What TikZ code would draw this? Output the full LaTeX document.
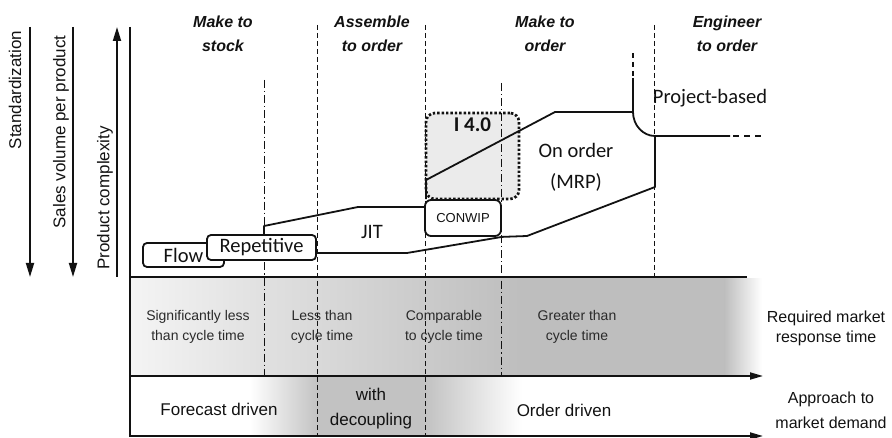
\documentclass[tikz,border=0pt]{standalone}
\usepackage{fontspec}
\setmainfont{Liberation Sans}
\newfontfamily\carlito{Carlito}
\usetikzlibrary{arrows.meta}

\definecolor{ink}{HTML}{121212}
\definecolor{softgray}{HTML}{EBEBEB}
\definecolor{bandA}{HTML}{F4F4F4}
\definecolor{bandB}{HTML}{E0E0E0}
\definecolor{bandC}{HTML}{CACACA}
\definecolor{bandD}{HTML}{BEBEBE}
\definecolor{bandE}{HTML}{C2C2C2}

\tikzset{
  outline/.style={draw=ink, line width=1.8pt, line join=round},
  frame/.style={draw=ink, line width=1.8pt},
  colsep/.style={draw=ink, line width=1pt, dash pattern=on 5pt off 3pt},
  colsepdd/.style={draw=ink, line width=1pt, dash pattern=on 8pt off 3pt on 1.2pt off 3pt},
  phasebox/.style={draw=ink, line width=1.8pt, fill=white, rounded corners=4pt,
    inner sep=0pt, text=ink, font=\carlito\fontsize{20.5}{24}\selectfont},
  regionlabel/.style={text=ink, font=\carlito\fontsize{20.5}{31}\selectfont, align=center},
  head/.style={text=ink, font=\bfseries\itshape\fontsize{16}{24}\selectfont, align=center},
  axislabel/.style={text=ink, font=\fontsize{17}{20}\selectfont, rotate=90},
  bandtext/.style={text=ink!90, font=\fontsize{14}{20}\selectfont, align=center},
  sidetext/.style={text=ink, font=\fontsize{16}{20}\selectfont, align=center},
  demandtext/.style={text=ink, font=\fontsize{17}{25}\selectfont, align=center},
  bigtip/.style={-{Triangle[length=14pt,width=8pt]}},
  flattip/.style={-{Triangle[length=13pt,width=7pt]}},
}

\begin{document}
\begin{tikzpicture}[x=1pt,y=-1pt]
\useasboundingbox (0,0) rectangle (892,438);

% Industry 4.0 zone behind everything else
\node[draw=ink, line width=2.7pt, dash pattern=on 2.4pt off 2pt, fill=softgray,
      rounded corners=9pt, minimum width=93pt, minimum height=86pt, inner sep=0pt,
      label={[anchor=north, inner sep=6pt, text=ink,
              font=\carlito\bfseries\fontsize{21}{24}\selectfont]north:I 4.0}]
      (i40) at (472.5,156) {};

% market response band
\shade[left color=bandA, right color=bandB] (131,278.5) rectangle (266,375);
\shade[left color=bandB, right color=bandC] (265.5,278.5) rectangle (430,375);
\shade[left color=bandC, right color=bandD] (429.5,278.5) rectangle (520,375);
\fill[bandD] (519.5,278.5) rectangle (725,375);
\shade[left color=bandD, right color=white] (724.5,278.5) rectangle (762,375);

% market demand band
\shade[left color=white, right color=bandE] (250,377) rectangle (318,435);
\fill[bandE] (317.5,377) rectangle (426,435);
\shade[left color=bandE, right color=white] (425.5,377) rectangle (522,435);

% column separators
\draw[colsepdd] (264,80) -- (264,376);
\draw[colsep]   (317,25) -- (317,436);
\draw[colsep]   (425,25) -- (425,436);
\draw[colsepdd] (501,83) -- (501,376);
\draw[colsep]   (654,25) -- (654,277);

% production control boxes
\node[phasebox, minimum width=81pt, minimum height=24pt] (flow) at (183.5,255) {\raisebox{-3pt}{Flow}};
\node[phasebox, minimum width=109pt, minimum height=25pt] (rep) at (261.5,247.5) {Repetitive};
\node[phasebox, rounded corners=6pt, minimum width=76pt, minimum height=36pt,
      font=\fontsize{13}{15}\selectfont] (conwip) at (463,218) {CONWIP};

% JIT region
\coordinate (jitA) at (264,226);
\coordinate (jitB) at (358,207);
\coordinate (jitC) at (407,253);
\draw[outline] (rep.north west -| jitA) -- (jitA) -- (jitB) -- (conwip.west |- jitB);

% MRP region
\coordinate (mrpA) at (426,180);
\coordinate (mrpB) at (555,112);
\coordinate (mrpC) at (633,112);
\coordinate (mrpD) at (655,136);
\coordinate (mrpE) at (655,187);
\coordinate (mrpF) at (527,236);
\coordinate (mrpG) at (730,136);
\coordinate (mrpH) at (763,136);
\coordinate (prjA) at (633,78);
\coordinate (prjB) at (633,53);
\draw[outline] (rep.east |- jitC) -- (jitC) -- (conwip.south east) -- (mrpF) -- (mrpE) -- (mrpD);
\draw[outline] (conwip.north west -| mrpA) -- (mrpA) -- (mrpB) -- (mrpC)
  .. controls (633,125.2) and (642.9,136) .. (mrpD) -- (mrpG);
\draw[outline] (prjA) -- (mrpC);
\draw[outline, dash pattern=on 5pt off 4pt] (prjB) -- (prjA);
\draw[outline, dash pattern=on 6pt off 5pt] (733,136) -- (mrpH);

% region labels
\node[regionlabel] (jit) at (372,232) {JIT};
\node[regionlabel] (mrp) at (576,167) {On order\\(MRP)};
\node[regionlabel] (prj) at (710,98) {Project-based};

% frame and axes
\coordinate (o) at (130,277);
\draw[frame] (130,27) -- (130,437);
\draw[frame] (o) -- (747,277);
\draw[frame, flattip] (130,376) -- (763,376);
\draw[frame, flattip] (130,436) -- (763,436);

% left scales
\draw[frame, bigtip] (30,27) -- (30,277);
\draw[frame, bigtip] (73,27) -- (73,277);
\draw[frame, bigtip] (117,277) -- (117,27);
\node[axislabel] (std) at (15,90) {Standardization};
\node[axislabel] (vol) at (61,132) {Sales volume per product};
\node[axislabel] (cpx) at (105,198) {Product complexity};

% strategy headers
\node[head] (mts) at (223,34) {Make to\\stock};
\node[head] (ato) at (372,34) {Assemble\\to order};
\node[head] (mto) at (545,34) {Make to\\order};
\node[head] (eto) at (727,34) {Engineer\\to order};

% response time band
\node[bandtext] (r1) at (198,327) {Significantly less\\than cycle time};
\node[bandtext] (r2) at (322,327) {Less than\\cycle time};
\node[bandtext] (r3) at (444,327) {Comparable\\to cycle time};
\node[bandtext] (r4) at (577,327) {Greater than\\cycle time};
\node[sidetext] (rt) at (826,328) {Required market\\response time};

% demand band
\node[demandtext] (d1) at (219,409) {Forecast driven};
\node[demandtext] (d2) at (371,408.5) {with\\decoupling};
\node[demandtext] (d3) at (564,410) {Order driven};
\node[sidetext, font=\fontsize{16}{25}\selectfont] (dm) at (831,410) {Approach to\\market demand};
\end{tikzpicture}
\end{document}
